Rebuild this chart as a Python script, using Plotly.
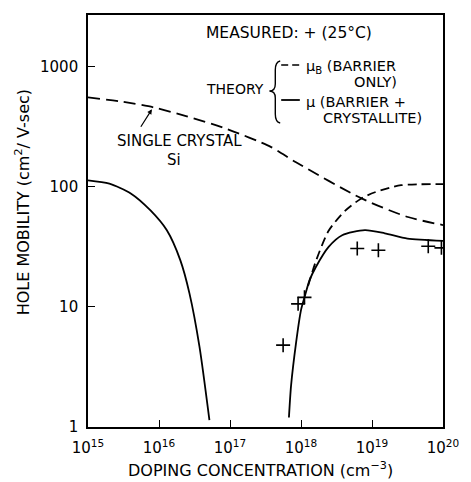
import plotly.graph_objects as go

# ---- data (doping in cm^-3, hole mobility in cm^2/V-sec) ----
single_x = [1e15, 2.9e15, 8.3e15, 2.4e16, 8.9e16, 3.8e17, 8.5e17, 7.1e18, 3.2e19, 1e20]
single_y = [555, 513, 459, 387, 304, 214, 160, 80, 56, 48]

mub_x = [1.26e18, 1.62e18, 2.45e18, 4.17e18, 7.08e18, 1.10e19, 2.57e19, 1e20]
mub_y = [15, 24, 43, 63, 80, 90, 103, 105]

mu_left_x = [1e15, 2.0e15, 4.0e15, 7.59e15, 1.29e16, 2.0e16, 2.69e16, 3.72e16, 5.13e16]
mu_left_y = [113, 106, 88, 63.5, 43.4, 24.4, 12.9, 4.65, 1.14]

mu_right_x = [6.76e17, 7.24e17, 8.51e17, 1e18, 1.12e18, 1.32e18, 1.62e18,
              2.45e18, 3.80e18, 7.94e18, 1.51e19, 3.16e19, 1e20]
mu_right_y = [1.2, 2.2, 5.0, 9.4, 12, 16.7, 21.5, 31.6, 39.5, 43.5, 41, 37, 35.5]

meas_x = [5.6e17, 9.1e17, 1.12e18, 6.2e18, 1.23e19, 6.2e19, 9.5e19]
meas_y = [4.8, 10.6, 12.0, 30.6, 29.6, 32, 31]

x_tickvals = [1e15, 1e16, 1e17, 1e18, 1e19, 1e20]
x_ticktext = ["10<sup>15</sup>", "10<sup>16</sup>", "10<sup>17</sup>",
              "10<sup>18</sup>", "10<sup>19</sup>", "10<sup>20</sup>"]
y_tickvals = [1, 10, 100, 1000]
y_ticktext = ["1", "10", "100", "1000"]

FONT = "DejaVu Sans"
INK = "black"
W, H = 471, 482
L, R, T, B = 88, 450, 15, 427


def px(p):
    return (p - L) / (R - L)


def py(p):
    return (B - p) / (B - T)


fig = go.Figure()

line_common = dict(color=INK, width=1.8, shape="spline", smoothing=0.7)

fig.add_trace(go.Scatter(x=single_x, y=single_y, mode="lines",
                         line=dict(**line_common, dash="12px,6px")))
fig.add_trace(go.Scatter(x=mub_x, y=mub_y, mode="lines",
                         line=dict(**line_common, dash="9px,5px")))
fig.add_trace(go.Scatter(x=mu_left_x, y=mu_left_y, mode="lines", line=line_common))
fig.add_trace(go.Scatter(x=mu_right_x, y=mu_right_y, mode="lines", line=line_common))
fig.add_trace(go.Scatter(x=meas_x, y=meas_y, mode="markers",
                         marker=dict(symbol="cross-thin", size=10,
                                     line=dict(color=INK, width=1.6))))

# key entries drawn beside the THEORY label
shapes = [
    dict(type="line", xref="paper", yref="paper", x0=px(285), x1=px(305),
         y0=py(65), y1=py(65), line=dict(color=INK, width=1.6, dash="7px,4px")),
    dict(type="line", xref="paper", yref="paper", x0=px(285), x1=px(304),
         y0=py(100), y1=py(100), line=dict(color=INK, width=1.8)),
]

# curly brace joining the two theory entries
brace_pts = [("M", (284, 61)), ("Q", (279, 62), (279, 70)), ("L", (279, 84)),
             ("Q", (279, 91), (273, 91)), ("Q", (279, 91), (279, 98)),
             ("L", (279, 114)), ("Q", (279, 122), (284, 123))]
path = ""
for cmd, *pts in brace_pts:
    path += cmd + " " + " ".join(f"{px(a):.4f},{py(b):.4f}" for a, b in pts) + " "
shapes.append(dict(type="path", xref="paper", yref="paper", path=path.strip(),
                   line=dict(color=INK, width=1.4)))


def label(text, x, y, xanchor="center", size=14, angle=0):
    return dict(text=text, xref="paper", yref="paper", x=px(x), y=py(y),
                xanchor=xanchor, yanchor="middle", showarrow=False,
                textangle=angle, font=dict(family=FONT, size=size, color=INK))


annotations = [
    label("MEASURED: + (25°C)", 206, 33, "left", 15.5),
    label("THEORY", 238, 89, "center", 14),
    label("μ<sub>B</sub> (BARRIER", 308, 67, "left", 14.5),
    label("ONLY)", 381, 82, "center", 14.5),
    label("μ (BARRIER +", 308, 102, "left", 14.5),
    label("CRYSTALLITE)", 378, 118, "center", 14.5),
    label("SINGLE CRYSTAL", 181, 141, "center", 15),
    label("Si", 176, 160, "center", 15),
    label("HOLE MOBILITY (cm<sup>2</sup>/ V-sec)", 21, 202, "center", 16, -90),
    label("DOPING CONCENTRATION (cm<sup>−3</sup>)", 264, 469, "center", 16),
    # pointer from the SINGLE CRYSTAL label to its curve
    dict(text="", x=15.9, y=2.645, xref="x", yref="y", ax=-12, ay=19,
         showarrow=True, arrowhead=2, arrowsize=0.8, arrowwidth=1.2,
         arrowcolor=INK),
]

axis_common = dict(showgrid=False, zeroline=False, showline=True, linecolor=INK,
                   linewidth=1.6, mirror=True, ticks="inside", ticklen=7,
                   tickwidth=1.4, tickcolor=INK,
                   tickfont=dict(family=FONT, size=15, color=INK))

fig.update_layout(
    width=W, height=H,
    margin=dict(l=L, r=W - R, t=T, b=H - B),
    paper_bgcolor="white", plot_bgcolor="white",
    showlegend=False,
    xaxis=dict(type="log", range=[15, 20], tickvals=x_tickvals,
               ticktext=x_ticktext, ticklabelstandoff=6, **axis_common),
    yaxis=dict(type="log", range=[0, 3.43], tickvals=y_tickvals,
               ticktext=y_ticktext, ticklabelstandoff=5, **axis_common),
    shapes=shapes,
    annotations=annotations,
)

fig.write_html("out.html")
